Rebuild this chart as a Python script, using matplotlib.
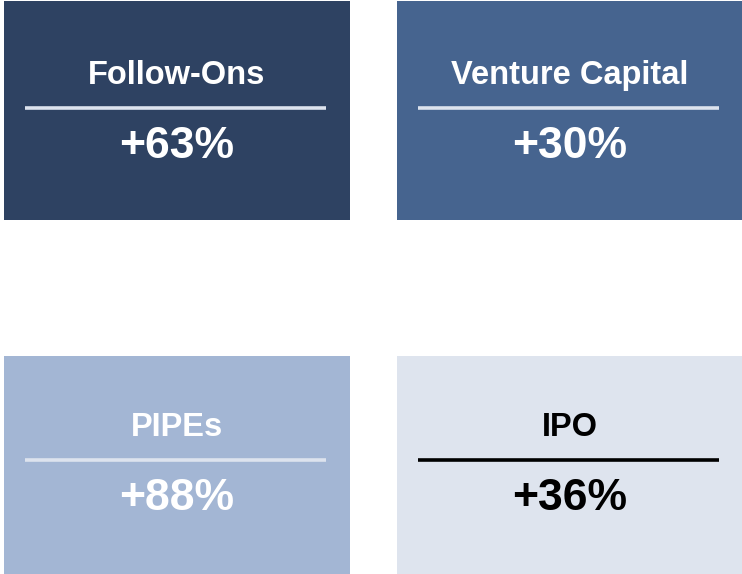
import matplotlib
matplotlib.use("Agg")
import matplotlib.pyplot as plt
from matplotlib.patches import Rectangle

categories = ["Follow-Ons", "Venture Capital", "PIPEs", "IPO"]
growth_pct = [63, 30, 88, 36]
tile_colors = ["#2E4262", "#46648F", "#A3B6D4", "#DEE4EE"]
text_colors = ["white", "white", "white", "black"]
rule_colors = ["#DDE3EE", "#DDE3EE", "#DDE3EE", "black"]

plt.rcParams["font.family"] = ["Liberation Sans", "DejaVu Sans"]

W, H = 742, 574
fig = plt.figure(figsize=(W / 100, H / 100), dpi=100)
ax = fig.add_axes([0, 0, 1, 1])
ax.set_xlim(0, W)
ax.set_ylim(H, 0)
ax.axis("off")

col_x = [4, 397]
tile_w = 346
tile_top = [1, 356]
tile_bottom = [220, 574]
content_base = [4, 356]

for i, (cat, val) in enumerate(zip(categories, growth_pct)):
    r, c = divmod(i, 2)
    x0 = col_x[c]
    ax.add_patch(Rectangle((x0, tile_top[r]), tile_w, tile_bottom[r] - tile_top[r],
                           facecolor=tile_colors[i], edgecolor="none"))
    b = content_base[r]
    cx = x0 + tile_w / 2
    ax.text(cx, b + 71.5, cat, ha="center", va="center", fontsize=23.5,
            fontweight="bold", color=text_colors[i])
    ax.plot([x0 + 21, x0 + 322], [b + 104, b + 104], color=rule_colors[i],
            lw=2.6, solid_capstyle="butt")
    ax.text(cx, b + 143, f"+{val}%", ha="center", va="center", fontsize=32,
            fontweight="bold", color=text_colors[i])

fig.savefig("out.png", dpi=100, facecolor="white")
